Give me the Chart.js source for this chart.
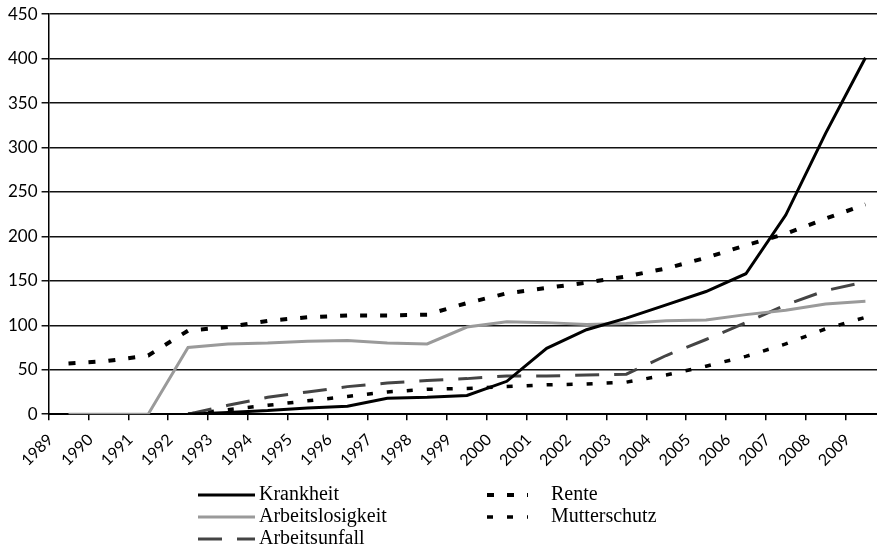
<!DOCTYPE html>
<html>
<head>
<meta charset="utf-8">
<script src="https://cdn.jsdelivr.net/npm/chart.js@4.4.0/dist/chart.umd.min.js"></script>
<style>
  html, body { margin: 0; padding: 0; background: #fff; overflow: hidden; }
  #wrap { width: 889px; height: 545px; }
</style>
</head>
<body>
<div id="wrap"><canvas id="chart" width="889" height="545"></canvas></div>
<script>
const years = ["1989","1990","1991","1992","1993","1994","1995","1996","1997","1998","1999",
               "2000","2001","2002","2003","2004","2005","2006","2007","2008","2009"];

const krankheit        = [null, null, null, 0, 2, 4, 7, 9, 18, 19, 21, 37, 74, 95, 108, 123, 138, 158, 224, 316, 401];
const arbeitslosigkeit = [0, 0, 0, 75, 79, 80, 82, 83, 80, 79, 98, 104, 103, 101, 102, 105, 106, 112, 117, 124, 127];
const arbeitsunfall    = [null, null, null, 0, 10, 19, 25, 31, 35, 38, 40, 43, 43, 44, 45, 66, 84, 103, 123, 139, 149];
const rente            = [57, 60, 66, 94, 98, 105, 109, 111, 111, 112, 125, 136, 142, 148, 155, 164, 176, 190, 203, 220, 236];
const mutterschutz     = [null, null, null, 0, 5, 10, 15, 20, 25, 28, 29, 31, 33, 34, 36, 44, 54, 65, 79, 96, 109];

// legend drawn by hand: two columns like the original
const legendSlots = [
  { x0: 198, x1: 255, tx: 259, y: 495 },
  { x0: 198, x1: 255, tx: 259, y: 517 },
  { x0: 198, x1: 255, tx: 259, y: 539 },
  { x0: 487, x1: 528, tx: 551, y: 495 },
  { x0: 487, x1: 528, tx: 551, y: 517 },
];

const colLegend = {
  id: "colLegend",
  afterDraw(chart) {
    const ctx = chart.ctx;
    chart.data.datasets.forEach((ds, i) => {
      const s = legendSlots[i];
      ctx.save();
      ctx.strokeStyle = ds.borderColor;
      ctx.lineWidth = ds.borderWidth;
      ctx.setLineDash(ds.borderDash || []);
      ctx.beginPath();
      ctx.moveTo(s.x0, s.y);
      ctx.lineTo(s.x1, s.y);
      ctx.stroke();
      ctx.setLineDash([]);
      ctx.fillStyle = "#000";
      ctx.font = '20px "Liberation Serif"';
      ctx.textBaseline = "middle";
      ctx.fillText(ds.label, s.tx, s.y);
      ctx.restore();
    });
  },
};

new Chart(document.getElementById("chart"), {
  type: "line",
  data: {
    labels: years,
    datasets: [
      { label: "Krankheit", data: krankheit, borderColor: "#000", borderWidth: 3 },
      { label: "Arbeitslosigkeit", data: arbeitslosigkeit, borderColor: "#9a9a9a", borderWidth: 3 },
      { label: "Arbeitsunfall", data: arbeitsunfall, borderColor: "#444", borderWidth: 3, borderDash: [24, 15] },
      { label: "Rente", data: rente, borderColor: "#000", borderWidth: 4, borderDash: [7, 13] },
      { label: "Mutterschutz", data: mutterschutz, borderColor: "#000", borderWidth: 3.5, borderDash: [6, 14] },
    ],
  },
  options: {
    responsive: false,
    animation: false,
    devicePixelRatio: 1,
    elements: { point: { radius: 0 }, line: { tension: 0 } },
    layout: { padding: { top: 7, left: 4, right: 0, bottom: 65 } },
    plugins: { legend: { display: false }, tooltip: { enabled: false } },
    scales: {
      x: {
        offset: true,
        grid: { offset: true, drawOnChartArea: false, drawTicks: true, tickLength: 6, color: "#000", lineWidth: 1.5 },
        border: { color: "#000", width: 2 },
        ticks: {
          color: "#000",
          minRotation: 45,
          maxRotation: 45,
          padding: 10,
          labelOffset: -18,
          font: { family: "Lato", size: 16 },
        },
      },
      y: {
        min: 0,
        max: 450,
        ticks: { stepSize: 50, color: "#000", padding: 4, font: { family: "Lato", size: 17 } },
        grid: { color: "#111", lineWidth: 1.5, tickLength: 7 },
        border: { color: "#000", width: 1.5 },
      },
    },
  },
  plugins: [colLegend],
});
</script>
</body>
</html>
